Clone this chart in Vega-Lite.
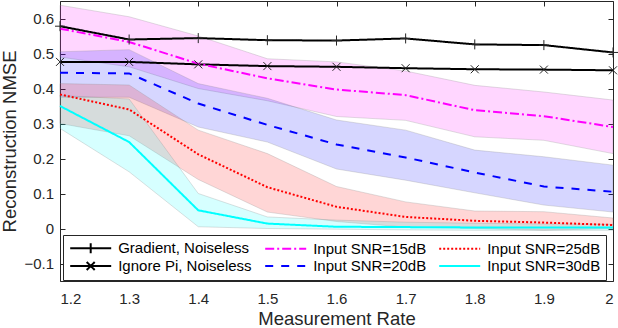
{
  "$schema": "https://vega.github.io/schema/vega-lite/v6.json",
  "width": 553,
  "height": 280,
  "autosize": {"type": "none"},
  "padding": {"left": 60, "top": 1, "right": 5, "bottom": 47},
  "background": "white",
  "config": {
    "view": {"stroke": null},
    "font": "Liberation Sans",
    "axis": {
      "grid": false,
      "domainColor": "#262626",
      "tickColor": "#262626",
      "labelColor": "#262626",
      "titleColor": "#262626",
      "labelFont": "Liberation Sans",
      "titleFont": "Liberation Sans",
      "labelFontSize": 15,
      "titleFontSize": 18.5,
      "titleFontWeight": "normal",
      "domainWidth": 1,
      "tickWidth": 1
    }
  },
  "data": {
    "values": [
      {"x": 1.2, "s": "Gradient, Noiseless", "m": 0.578},
      {"x": 1.3, "s": "Gradient, Noiseless", "m": 0.54},
      {"x": 1.4, "s": "Gradient, Noiseless", "m": 0.544},
      {"x": 1.5, "s": "Gradient, Noiseless", "m": 0.538},
      {"x": 1.6, "s": "Gradient, Noiseless", "m": 0.537},
      {"x": 1.7, "s": "Gradient, Noiseless", "m": 0.543},
      {"x": 1.8, "s": "Gradient, Noiseless", "m": 0.526},
      {"x": 1.9, "s": "Gradient, Noiseless", "m": 0.524},
      {"x": 2.0, "s": "Gradient, Noiseless", "m": 0.503},
      {"x": 1.2, "s": "Ignore Pi, Noiseless", "m": 0.476},
      {"x": 1.3, "s": "Ignore Pi, Noiseless", "m": 0.476},
      {"x": 1.4, "s": "Ignore Pi, Noiseless", "m": 0.469},
      {"x": 1.5, "s": "Ignore Pi, Noiseless", "m": 0.464},
      {"x": 1.6, "s": "Ignore Pi, Noiseless", "m": 0.462},
      {"x": 1.7, "s": "Ignore Pi, Noiseless", "m": 0.458},
      {"x": 1.8, "s": "Ignore Pi, Noiseless", "m": 0.455},
      {"x": 1.9, "s": "Ignore Pi, Noiseless", "m": 0.454},
      {"x": 2.0, "s": "Ignore Pi, Noiseless", "m": 0.452},
      {"x": 1.2, "s": "Input SNR=15dB", "m": 0.571, "lo": 0.49, "hi": 0.638},
      {"x": 1.3, "s": "Input SNR=15dB", "m": 0.533, "lo": 0.462, "hi": 0.605},
      {"x": 1.4, "s": "Input SNR=15dB", "m": 0.471, "lo": 0.4, "hi": 0.55},
      {"x": 1.5, "s": "Input SNR=15dB", "m": 0.429, "lo": 0.365, "hi": 0.485},
      {"x": 1.6, "s": "Input SNR=15dB", "m": 0.397, "lo": 0.32, "hi": 0.476},
      {"x": 1.7, "s": "Input SNR=15dB", "m": 0.381, "lo": 0.309, "hi": 0.45},
      {"x": 1.8, "s": "Input SNR=15dB", "m": 0.338, "lo": 0.262, "hi": 0.409},
      {"x": 1.9, "s": "Input SNR=15dB", "m": 0.321, "lo": 0.252, "hi": 0.39},
      {"x": 2.0, "s": "Input SNR=15dB", "m": 0.29, "lo": 0.214, "hi": 0.367},
      {"x": 1.2, "s": "Input SNR=20dB", "m": 0.445, "lo": 0.375, "hi": 0.505},
      {"x": 1.3, "s": "Input SNR=20dB", "m": 0.443, "lo": 0.375, "hi": 0.511},
      {"x": 1.4, "s": "Input SNR=20dB", "m": 0.357, "lo": 0.29, "hi": 0.414},
      {"x": 1.5, "s": "Input SNR=20dB", "m": 0.296, "lo": 0.247, "hi": 0.372},
      {"x": 1.6, "s": "Input SNR=20dB", "m": 0.24, "lo": 0.17, "hi": 0.31},
      {"x": 1.7, "s": "Input SNR=20dB", "m": 0.203, "lo": 0.138, "hi": 0.281},
      {"x": 1.8, "s": "Input SNR=20dB", "m": 0.16, "lo": 0.102, "hi": 0.224},
      {"x": 1.9, "s": "Input SNR=20dB", "m": 0.12, "lo": 0.067, "hi": 0.205},
      {"x": 2.0, "s": "Input SNR=20dB", "m": 0.105, "lo": 0.047, "hi": 0.181},
      {"x": 1.2, "s": "Input SNR=25dB", "m": 0.383, "lo": 0.3, "hi": 0.414},
      {"x": 1.3, "s": "Input SNR=25dB", "m": 0.34, "lo": 0.265, "hi": 0.41},
      {"x": 1.4, "s": "Input SNR=25dB", "m": 0.212, "lo": 0.14, "hi": 0.281},
      {"x": 1.5, "s": "Input SNR=25dB", "m": 0.118, "lo": 0.047, "hi": 0.214},
      {"x": 1.6, "s": "Input SNR=25dB", "m": 0.062, "lo": 0.02, "hi": 0.12},
      {"x": 1.7, "s": "Input SNR=25dB", "m": 0.033, "lo": 0.004, "hi": 0.076},
      {"x": 1.8, "s": "Input SNR=25dB", "m": 0.022, "lo": 0.0, "hi": 0.05},
      {"x": 1.9, "s": "Input SNR=25dB", "m": 0.017, "lo": -0.005, "hi": 0.048},
      {"x": 2.0, "s": "Input SNR=25dB", "m": 0.01, "lo": 0.0, "hi": 0.03},
      {"x": 1.2, "s": "Input SNR=30dB", "m": 0.35, "lo": 0.286, "hi": 0.38},
      {"x": 1.3, "s": "Input SNR=30dB", "m": 0.247, "lo": 0.162, "hi": 0.37},
      {"x": 1.4, "s": "Input SNR=30dB", "m": 0.052, "lo": 0.005, "hi": 0.1},
      {"x": 1.5, "s": "Input SNR=30dB", "m": 0.014, "lo": 0.0, "hi": 0.033},
      {"x": 1.6, "s": "Input SNR=30dB", "m": 0.005, "lo": -0.002, "hi": 0.024},
      {"x": 1.7, "s": "Input SNR=30dB", "m": 0.004, "lo": -0.004, "hi": 0.018},
      {"x": 1.8, "s": "Input SNR=30dB", "m": 0.003, "lo": -0.005, "hi": 0.015},
      {"x": 1.9, "s": "Input SNR=30dB", "m": 0.003, "lo": -0.005, "hi": 0.013},
      {"x": 2.0, "s": "Input SNR=30dB", "m": 0.003, "lo": -0.005, "hi": 0.012}
    ]
  },
  "layer": [
    {
      "transform": [{"filter": "isValid(datum.hi)"}],
      "mark": {"type": "area", "fillOpacity": 0.16, "stroke": "#8c8c8c", "strokeWidth": 0.6, "strokeOpacity": 0.45},
      "encoding": {
        "x": {
          "field": "x", "type": "quantitative",
          "scale": {"domain": [1.2, 2], "nice": false, "zero": false},
          "axis": {"orient": "bottom", "values": [1.2, 1.3, 1.4, 1.5, 1.6, 1.7, 1.8, 1.9, 2], "format": "~g", "ticks": false, "labelPadding": 10, "title": "Measurement Rate", "titleY": 43, "titleBaseline": "alphabetic"}
        },
        "y": {
          "field": "lo", "type": "quantitative",
          "scale": {"domain": [-0.15, 0.65], "nice": false, "zero": false},
          "axis": {"orient": "left", "values": [-0.1, 0, 0.1, 0.2, 0.3, 0.4, 0.5, 0.6], "format": "~g", "ticks": false, "labelPadding": 6.5, "title": "Reconstruction NMSE", "titleX": -45, "titleY": 140, "titleAngle": -90, "titleBaseline": "alphabetic", "titleAlign": "center"}
        },
        "y2": {"field": "hi"},
        "fill": {
          "field": "s", "type": "nominal",
          "scale": {"domain": ["Input SNR=15dB", "Input SNR=20dB", "Input SNR=25dB", "Input SNR=30dB"], "range": ["#ff00ff", "#0000ff", "#ff0000", "#00ffff"]},
          "legend": null
        }
      }
    },
    {
      "mark": {"type": "line", "strokeWidth": 2},
      "encoding": {
        "x": {
          "field": "x", "type": "quantitative",
          "axis": {"orient": "top", "values": [1.2, 1.3, 1.4, 1.5, 1.6, 1.7, 1.8, 1.9, 2], "labels": false, "tickSize": -5, "title": null}
        },
        "y": {
          "field": "m", "type": "quantitative",
          "axis": {"orient": "right", "values": [-0.1, 0, 0.1, 0.2, 0.3, 0.4, 0.5, 0.6], "labels": false, "tickSize": -5, "title": null}
        },
        "color": {
          "field": "s", "type": "nominal",
          "scale": {"domain": ["Gradient, Noiseless", "Input SNR=15dB", "Input SNR=25dB", "Ignore Pi, Noiseless", "Input SNR=20dB", "Input SNR=30dB"], "range": ["#000000", "#ff00ff", "#ff0000", "#000000", "#0000ff", "#00ffff"]},
          "legend": {
            "title": null, "orient": "none", "legendX": 3, "legendY": 234, "direction": "horizontal", "columns": 3,
            "columnPadding": 8, "rowPadding": 0, "padding": 5.5,
            "fillColor": "white", "strokeColor": "#262626",
            "symbolSize": 100, "symbolStrokeWidth": 2, "symbolOffset": 14.7, "labelOffset": 20,
            "labelFont": "Liberation Sans", "labelFontSize": 15, "labelColor": "#000000", "labelLimit": 0,
            "encode": {"symbols": {"update": {"fill": {"value": "transparent"}, "shape": {"signal": "datum.value === 'Gradient, Noiseless' ? 'M-4.1,0H4.1M0,-1V1' : (datum.value === 'Ignore Pi, Noiseless' ? 'M-4.1,0H4.1M-0.8,-0.8L0.8,0.8M-0.8,0.8L0.8,-0.8' : 'M-4.1,0H4.1')"}}}}
          }
        },
        "strokeDash": {
          "field": "s", "type": "nominal",
          "scale": {"domain": ["Gradient, Noiseless", "Input SNR=15dB", "Input SNR=25dB", "Ignore Pi, Noiseless", "Input SNR=20dB", "Input SNR=30dB"], "range": [[1, 0], [9, 3, 2, 3], [2, 2], [1, 0], [8, 8], [1, 0]]},
          "legend": {
            "title": null, "orient": "none", "legendX": 3, "legendY": 234, "direction": "horizontal", "columns": 3,
            "columnPadding": 8, "rowPadding": 0, "padding": 5.5,
            "fillColor": "white", "strokeColor": "#262626",
            "symbolSize": 100, "symbolStrokeWidth": 2, "symbolOffset": 14.7, "labelOffset": 20,
            "labelFont": "Liberation Sans", "labelFontSize": 15, "labelColor": "#000000", "labelLimit": 0,
            "encode": {"symbols": {"update": {"fill": {"value": "transparent"}, "shape": {"signal": "datum.value === 'Gradient, Noiseless' ? 'M-4.1,0H4.1M0,-1V1' : (datum.value === 'Ignore Pi, Noiseless' ? 'M-4.1,0H4.1M-0.8,-0.8L0.8,0.8M-0.8,0.8L0.8,-0.8' : 'M-4.1,0H4.1')"}}}}
          }
        }
      }
    },
    {
      "transform": [{"filter": "datum.s === 'Gradient, Noiseless' || datum.s === 'Ignore Pi, Noiseless'"}],
      "mark": {"type": "point", "filled": false, "stroke": "#262626", "strokeWidth": 1, "size": 100, "opacity": 1},
      "encoding": {
        "x": {
          "field": "x", "type": "quantitative",
          "axis": {"orient": "bottom", "values": [1.2, 1.3, 1.4, 1.5, 1.6, 1.7, 1.8, 1.9, 2], "labels": false, "domain": false, "tickSize": -5, "title": null}
        },
        "y": {
          "field": "m", "type": "quantitative",
          "axis": {"orient": "left", "values": [-0.1, 0, 0.1, 0.2, 0.3, 0.4, 0.5, 0.6], "labels": false, "domain": false, "tickSize": -5, "title": null}
        },
        "shape": {
          "field": "s", "type": "nominal",
          "scale": {"domain": ["Gradient, Noiseless", "Ignore Pi, Noiseless"], "range": ["M-1,0H1M0,-1V1", "M-0.8,-0.8L0.8,0.8M-0.8,0.8L0.8,-0.8"]},
          "legend": null
        }
      }
    }
  ],
  "resolve": {"axis": {"x": "independent", "y": "independent"}}
}
